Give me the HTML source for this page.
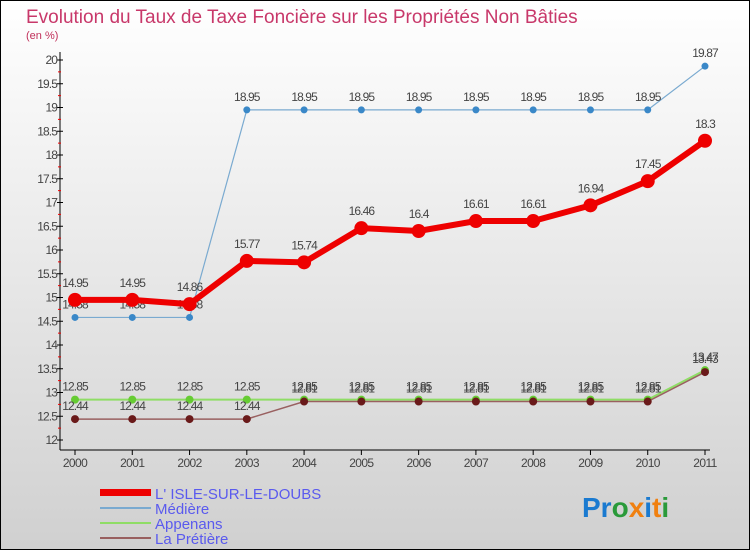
<!DOCTYPE html>
<html><head><meta charset="utf-8"><style>
body{margin:0;width:750px;height:550px;overflow:hidden;font-family:"Liberation Sans",sans-serif}
#wrap{position:absolute;left:0;top:0;width:748px;height:548px;border:1px solid #000;background:linear-gradient(#fff,#d0d0d0)}
</style></head><body>
<div id="wrap">
<svg id="chart" width="750" height="550" style="position:absolute;left:-1px;top:-1px">
<text x="26" y="23" font-size="19" fill="#c8386a">Evolution du Taux de Taxe Foncière sur les Propriétés Non Bâties</text>
<text x="26" y="39" font-size="11" fill="#c0305a">(en %)</text>
<g id="axes"></g><g id="series"></g>
<g>
<rect x="100" y="489" width="51" height="7" fill="#e00"/>
<text x="155" y="499" font-size="15" fill="#5a5aee">L' ISLE-SUR-LE-DOUBS</text>
<rect x="100" y="507" width="51" height="2" fill="#7aaad0"/>
<text x="155" y="514" font-size="15" fill="#5a5aee">Médière</text>
<rect x="100" y="522" width="51" height="2" fill="#8fdd66"/>
<text x="155" y="529" font-size="15" fill="#5a5aee">Appenans</text>
<rect x="100" y="537" width="51" height="2" fill="#996060"/>
<text x="155" y="544" font-size="15" fill="#5a5aee">La Prétière</text>
</g>
<text x="582" y="517" font-size="28" font-weight="bold"><tspan fill="#1a7ad0">Pr</tspan><tspan fill="#2a9a3a">o</tspan><tspan fill="#f08010">x</tspan><tspan fill="#1a7ad0">i</tspan><tspan fill="#f08010">t</tspan><tspan fill="#2a9a3a">i</tspan></text>
</svg></div>
<script>
const years=["2000","2001","2002","2003","2004","2005","2006","2007","2008","2009","2010","2011"];
const yTicks=[12,12.5,13,13.5,14,14.5,15,15.5,16,16.5,17,17.5,18,18.5,19,19.5,20];
const yTickLabels=["12","12.5","13","13.5","14","14.5","15","15.5","16","16.5","17","17.5","18","18.5","19","19.5","20"];
const isle=[14.95,14.95,14.86,15.77,15.74,16.46,16.4,16.61,16.61,16.94,17.45,18.3];
const mediere=[14.58,14.58,14.58,18.95,18.95,18.95,18.95,18.95,18.95,18.95,18.95,19.87];
const appenans=[12.85,12.85,12.85,12.85,12.85,12.85,12.85,12.85,12.85,12.85,12.85,13.47];
const pretiere=[12.44,12.44,12.44,12.44,12.81,12.81,12.81,12.81,12.81,12.81,12.81,13.43];
const NS="http://www.w3.org/2000/svg";
const xs=i=>75+i*(630/(years.length-1));
const ys=v=>440-(v-12)*47.5;
function mk(t,a,p){const e=document.createElementNS(NS,t);for(const k in a)e.setAttribute(k,a[k]);p.appendChild(e);return e;}
const ax=document.getElementById('axes');
let l=mk('line',{x1:60,y1:52,x2:60,y2:450,stroke:'#000'},ax);


l=mk('line',{x1:60,y1:450,x2:710,y2:450,stroke:'#000'},ax);


yTicks.forEach((v,i)=>{
 mk('line',{x1:57,y1:ys(v),x2:63,y2:ys(v),stroke:'#000'},ax);
 if(i<yTicks.length-1)mk('line',{x1:58,y1:ys(v+0.25),x2:61,y2:ys(v+0.25),stroke:'#e00'},ax);
 const t=mk('text',{x:57,y:ys(v)+4,'text-anchor':'end','font-size':12,fill:'#444','letter-spacing':'-0.9'},ax);
 t.textContent=yTickLabels[i];
 
 
});
years.forEach((y,i)=>{
 mk('line',{x1:xs(i),y1:450,x2:xs(i),y2:455,stroke:'#000'},ax);
 const t=mk('text',{x:xs(i),y:467,'text-anchor':'middle','font-size':12,fill:'#444','letter-spacing':'-0.6'},ax);
 t.textContent=y;
 
 
});
const sg=document.getElementById('series');
function draw(data,color,w,r,name,lc){
 const g=mk('g',{},sg);
 
 
 mk('polyline',{points:data.map((v,i)=>xs(i)+','+ys(v)).join(' '),fill:'none',stroke:color,'stroke-width':w},g);
 data.forEach((v,i)=>{
  const c=mk('circle',{cx:xs(i),cy:ys(v),r:r,fill:lc},g);
  
  
  const t=mk('text',{x:xs(i),y:ys(v)-9-(r>5?4:0),'text-anchor':'middle','font-size':12,fill:'#444','letter-spacing':'-0.9'},g);
  t.textContent=String(v);
  
  
 });
}
draw(mediere,'#7aaad0',1.2,3.5,'series-mediere','#3a88c8');
draw(appenans,'#8fdd66',2,4,'series-appenans','#66cc33');
draw(pretiere,'#996060',1.5,4,'series-la-pretiere','#6a1a1a');
draw(isle,'#e00',6,7,'series-isle','#e00');
</script>
</body></html>
